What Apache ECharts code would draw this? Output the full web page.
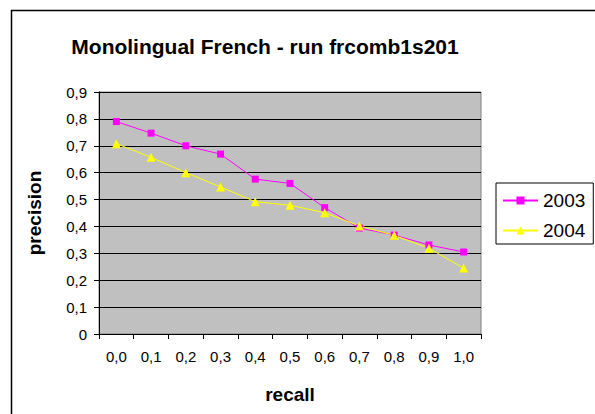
<!DOCTYPE html>
<html>
<head>
<meta charset="utf-8">
<script src="https://cdn.jsdelivr.net/npm/echarts@6/dist/echarts.min.js"></script>
<style>
  html, body { margin: 0; padding: 0; background: #fff; }
  #chart { width: 595px; height: 414px; }
</style>
</head>
<body>
<div id="chart"></div>
<script>
var recall = ['0,0', '0,1', '0,2', '0,3', '0,4', '0,5', '0,6', '0,7', '0,8', '0,9', '1,0'];
var run2003 = [0.79, 0.747, 0.70, 0.669, 0.576, 0.56, 0.47, 0.394, 0.368, 0.331, 0.305];
var run2004 = [0.708, 0.657, 0.60, 0.547, 0.492, 0.479, 0.451, 0.402, 0.367, 0.319, 0.245];

(function () {
  var font = 'Arial, "Liberation Sans", sans-serif';
  var chart = echarts.init(document.getElementById('chart'), null, { renderer: 'svg' });

  chart.setOption({
    animation: false,
    backgroundColor: '#ffffff',
    title: {
      text: 'Monolingual French - run frcomb1s201',
      left: 260,
      top: 31,
      textAlign: 'center',
      textStyle: { fontFamily: font, fontSize: 21, fontWeight: 'bold', color: '#000' }
    },
    graphic: [{
      type: 'rect',
      shape: { x: 11.5, y: 10.5, width: 700, height: 500 },
      style: { fill: 'none', stroke: '#000', lineWidth: 1.5 },
      silent: true
    }],
    legend: {
      orient: 'vertical',
      left: 496,
      top: 183,
      width: 94,
      padding: [8, 8, 4, 6],
      itemGap: 11,
      itemWidth: 35,
      itemHeight: 10,
      borderColor: '#000',
      borderWidth: 1,
      backgroundColor: '#fff',
      textStyle: { fontFamily: font, fontSize: 19, color: '#000' },
      data: ['2003', '2004']
    },
    grid: {
      left: 99,
      top: 92,
      right: 114,
      bottom: 80,
      show: true,
      backgroundColor: '#c0c0c0',
      borderColor: '#808080',
      borderWidth: 1
    },
    xAxis: {
      type: 'category',
      data: recall,
      boundaryGap: true,
      name: 'recall',
      nameLocation: 'middle',
      nameGap: 51,
      nameTextStyle: { fontFamily: font, fontSize: 19, fontWeight: 'bold', color: '#000' },
      axisLine: { lineStyle: { color: '#000', width: 1 } },
      axisTick: { show: true, interval: 0, length: 5, lineStyle: { color: '#000' } },
      axisLabel: { interval: 0, margin: 15, fontFamily: font, fontSize: 15, color: '#000' },
      splitLine: { show: false }
    },
    yAxis: {
      type: 'value',
      min: 0,
      max: 0.9,
      interval: 0.1,
      name: 'precision',
      nameLocation: 'middle',
      nameGap: 55,
      nameTextStyle: { fontFamily: font, fontSize: 19, fontWeight: 'bold', color: '#000' },
      axisLine: { show: true, lineStyle: { color: '#000', width: 1 } },
      axisTick: { show: true, length: 5, lineStyle: { color: '#000' } },
      axisLabel: {
        margin: 12,
        fontFamily: font,
        fontSize: 15,
        color: '#000',
        formatter: function (v) { return v === 0 ? '0' : v.toFixed(1).replace('.', ','); }
      },
      splitLine: { show: true, lineStyle: { color: '#000', width: 1 } }
    },
    series: [
      {
        name: '2003',
        type: 'line',
        data: run2003,
        symbol: 'rect',
        symbolSize: 7,
        color: '#ff00ff',
        lineStyle: { width: 1, color: '#ff00ff' },
        itemStyle: { color: '#ff00ff' }
      },
      {
        name: '2004',
        type: 'line',
        data: run2004,
        symbol: 'triangle',
        symbolSize: 9,
        color: '#ffff00',
        lineStyle: { width: 1, color: '#ffff00' },
        itemStyle: { color: '#ffff00' }
      }
    ]
  });
})();
</script>
</body>
</html>
